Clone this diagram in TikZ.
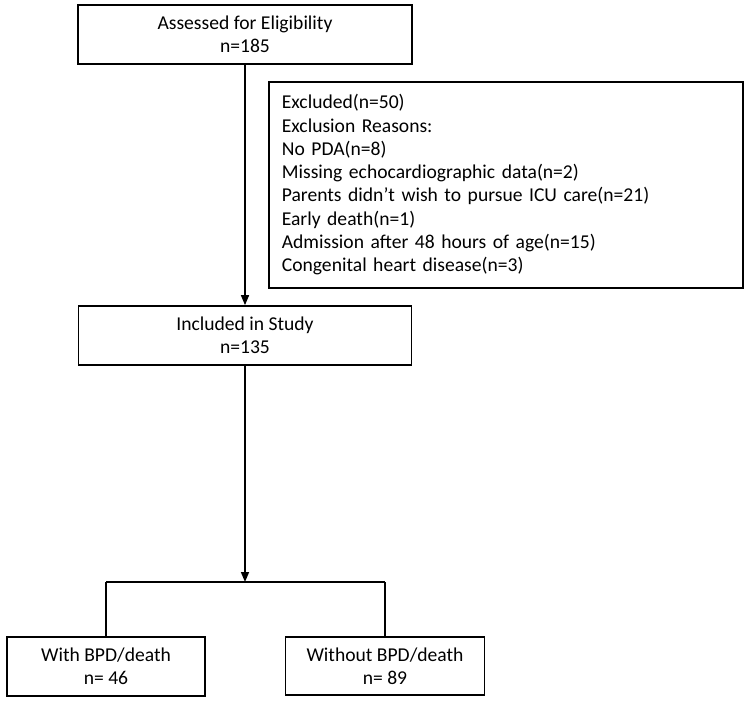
\documentclass[tikz,border=0pt]{standalone}
\usepackage{fontspec}
\setmainfont{Carlito}
\usetikzlibrary{arrows.meta}
\begin{document}
\begin{tikzpicture}[x=1pt,y=1pt,
  box/.style={draw, line width=1.7pt, rectangle, align=center, inner sep=0pt,
    font=\fontsize{19.6}{23.3}\selectfont},
  conn/.style={line width=1.5pt},
  arr/.style={conn, -{Triangle[width=8pt,length=10pt]}}]
\useasboundingbox (0,0) rectangle (749,-703);
\node[box, minimum width=334pt, minimum height=59pt] (assess) at (245,-34.5)
  {Assessed for Eligibility\\n=185};
\node[box, align=left, anchor=north west, text width=448pt, inner xsep=13pt,
  minimum height=206pt] (excl) at (268,-81)
  {Excluded(n=50)\\Exclusion Reasons:\\No PDA(n=8)\\Missing echocardiographic data(n=2)\\Parents didn’t wish to pursue ICU care(n=21)\\Early death(n=1)\\Admission after 48 hours of age(n=15)\\Congenital heart disease(n=3)};
\node[box, minimum width=333pt, minimum height=59pt] (incl) at (245,-335.5)
  {Included in Study\\n=135};
\node[box, minimum width=198pt, minimum height=59pt] (with) at (106,-666.5)
  {With BPD/death\\n= 46};
\node[box, minimum width=199pt, minimum height=58pt] (without) at (385,-666)
  {Without BPD/death\\n= 89};
\coordinate (split) at (245,-582);
\coordinate (sl) at (106,-582);
\coordinate (sr) at (385,-582);
\draw[arr] (assess.south) -- (incl.north);
\draw[arr] (incl.south) -- (split);
\draw[conn] (sl) -- (sr);
\draw[conn] (sl) -- (with.north);
\draw[conn] (sr) -- (without.north);
\end{tikzpicture}
\end{document}
